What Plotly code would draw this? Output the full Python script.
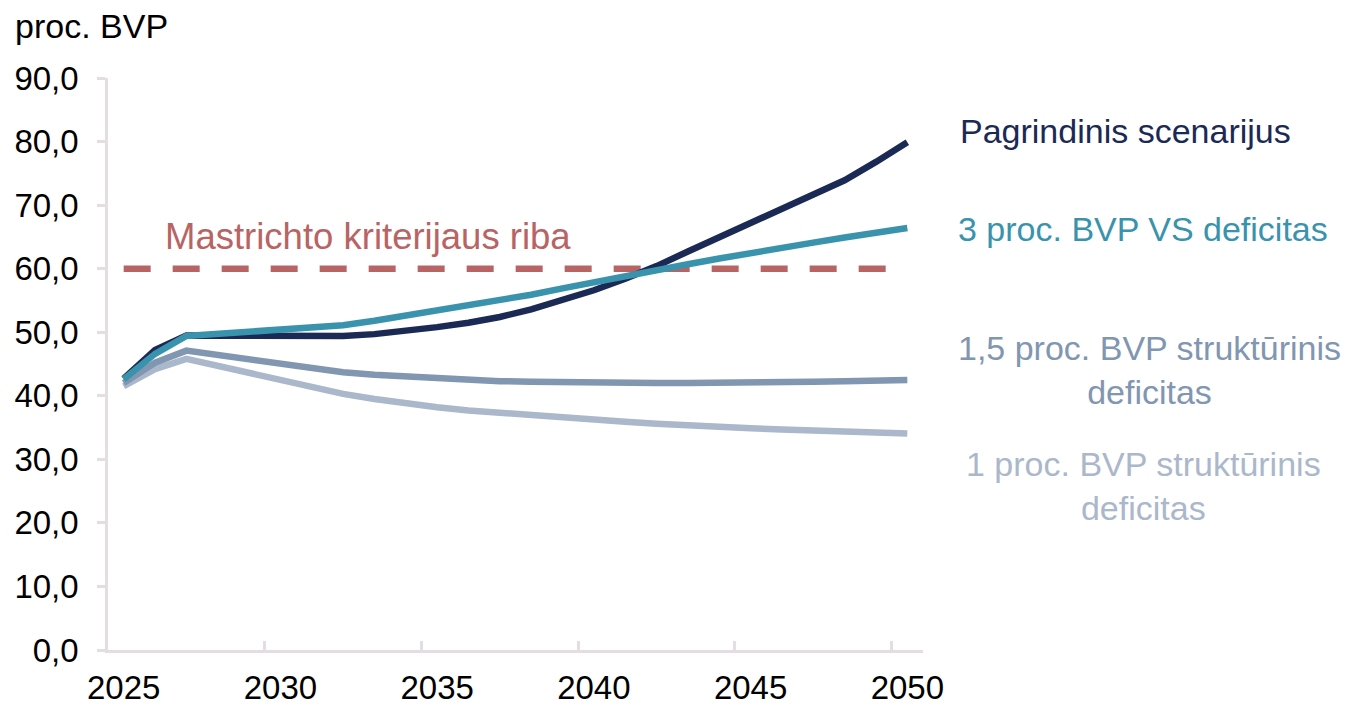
import plotly.graph_objects as go

years = list(range(2025, 2051))

pagrindinis = [42.7, 47.2, 49.5, 49.5, 49.5, 49.5, 49.4, 49.4, 49.7, 50.2, 50.8, 51.5,
               52.4, 53.6, 55.0, 56.6, 58.4, 60.4, 62.7, 64.9, 67.1, 69.3, 71.5, 73.9,
               76.8, 79.9]
vs3 = [42.6, 46.6, 49.4, 49.7, 50.0, 50.3, 50.7, 51.1, 51.8, 52.6, 53.4, 54.2,
       55.0, 55.9, 56.9, 57.9, 58.9, 59.8, 60.7, 61.6, 62.5, 63.3, 64.1, 64.9,
       65.7, 66.4]
str15 = [42.0, 45.2, 47.1, 46.4, 45.7, 45.0, 44.4, 43.7, 43.3, 43.0, 42.8, 42.5,
         42.3, 42.2, 42.1, 42.0, 42.0, 42.0, 42.0, 42.0, 42.1, 42.1, 42.2, 42.3,
         42.4, 42.5]
str1 = [41.5, 44.2, 45.8, 44.7, 43.6, 42.5, 41.4, 40.3, 39.5, 38.8, 38.2, 37.7,
        37.3, 36.9, 36.5, 36.2, 35.9, 35.6, 35.3, 35.1, 34.9, 34.7, 34.5, 34.3,
        34.2, 34.05]
mastricht = [60.0] * len(years)

tick_years = [2025, 2030, 2035, 2040, 2045, 2050]
boundary_ticks = [2029.5, 2034.5, 2039.5, 2044.5, 2049.5]
y_ticks = [0, 10, 20, 30, 40, 50, 60, 70, 80, 90]

NAVY = "#1b2a55"
TEAL = "#3a93ad"
SLATE = "#8196b0"
LIGHT = "#abb7ca"
RED = "#b86464"
AXIS = "#e4dde1"
FONT = "Arial, Liberation Sans, sans-serif"

fig = go.Figure()
fig.add_trace(go.Scatter(x=years, y=mastricht, mode="lines",
                         line=dict(color=RED, width=6.5, dash="27px,22px")))
fig.add_trace(go.Scatter(x=years, y=str1, mode="lines", line=dict(color=LIGHT, width=6.5)))
fig.add_trace(go.Scatter(x=years, y=str15, mode="lines", line=dict(color=SLATE, width=6.5)))
fig.add_trace(go.Scatter(x=years, y=pagrindinis, mode="lines", line=dict(color=NAVY, width=6.5)))
fig.add_trace(go.Scatter(x=years, y=vs3, mode="lines", line=dict(color=TEAL, width=6.5)))
# invisible trace to activate the boundary-tick axis
fig.add_trace(go.Scatter(x=[years[0]], y=[0], xaxis="x2", mode="markers",
                         marker=dict(opacity=0), hoverinfo="skip"))

fig.update_layout(
    template="none",
    width=1345, height=706,
    margin=dict(l=108, r=422, t=78, b=56, autoexpand=False),
    paper_bgcolor="white", plot_bgcolor="white",
    showlegend=False,
    separators=", ",
    font=dict(family=FONT, size=33, color="black"),
    xaxis=dict(range=[2024.5, 2050.5], tickvals=tick_years, ticks="",
               showline=True, linecolor=AXIS, linewidth=2.5, showgrid=False,
               zeroline=False, ticklabelstandoff=7, automargin=False,
               tickfont=dict(size=33, color="black")),
    xaxis2=dict(range=[2024.5, 2050.5], overlaying="x", anchor="y", side="bottom",
                tickvals=boundary_ticks, ticks="inside", ticklen=9, tickwidth=2.5,
                tickcolor=AXIS, showticklabels=False, showgrid=False, zeroline=False,
                showline=False, automargin=False),
    yaxis=dict(range=[0, 90], tickvals=y_ticks, tickformat=".1f", ticks="outside",
               ticklen=8, tickwidth=2.5, tickcolor=AXIS, showline=True,
               linecolor=AXIS, linewidth=2.5, showgrid=False, zeroline=False,
               ticklabelstandoff=12, automargin=False,
               tickfont=dict(size=33, color="black")),
)

fig.add_annotation(text="proc. BVP", xref="paper", yref="paper", x=-0.1166, y=1.091,
                   xanchor="left", yanchor="middle", showarrow=False,
                   font=dict(size=34, color="black"))
fig.add_annotation(text="Mastrichto kriterijaus riba", xref="x", yref="y", x=2032.8, y=65.0,
                   xanchor="center", yanchor="middle", showarrow=False,
                   font=dict(size=36.5, color=RED))

right_labels = [
    ("Pagrindinis scenarijus", NAVY, 1.249, 81.7),
    ("3 proc. BVP VS deficitas", TEAL, 1.270, 66.3),
    ("1,5 proc. BVP struktūrinis<br>deficitas", SLATE, 1.278, 44.0),
    ("1 proc. BVP struktūrinis<br>deficitas", LIGHT, 1.270, 25.8),
]
for txt, col, xp, yv in right_labels:
    fig.add_annotation(text=txt, xref="paper", yref="y", x=xp, y=yv,
                       xanchor="center", yanchor="middle", align="center",
                       showarrow=False, font=dict(size=34, color=col))

fig.write_html("out.html", config={"displayModeBar": False},
               post_script="document.body.style.margin='0';")
